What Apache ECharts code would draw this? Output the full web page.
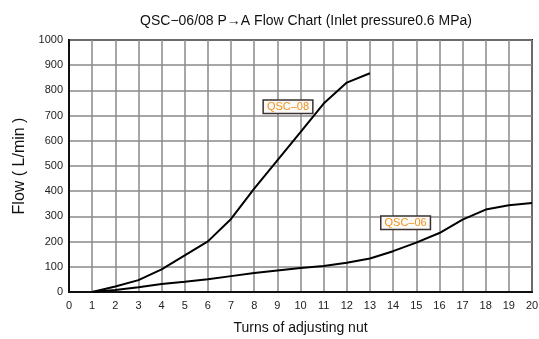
<!DOCTYPE html>
<html>
<head>
<meta charset="utf-8">
<script src="https://cdn.jsdelivr.net/npm/echarts@6/dist/echarts.min.js"></script>
<style>
  html, body { margin: 0; padding: 0; background: #fff; }
  #chart { width: 539px; height: 339px; }
</style>
</head>
<body>
<div id="chart"></div>
<script>
// Flow (L/min) against turns of the adjusting nut
const turns08 = [1, 2, 3, 4, 5, 6, 7, 8, 9, 10, 11, 12, 13];
const flow08  = [0, 22, 47, 90, 145, 201, 290, 410, 522, 634, 748, 831, 868];

const turns06 = [1, 2, 3, 4, 5, 6, 7, 8, 9, 10, 11, 12, 13, 14, 15, 16, 17, 18, 19, 20];
const flow06  = [0, 8, 19, 32, 41, 51, 63, 75, 85, 95, 103, 116, 133, 162, 196, 234, 287, 327, 344, 353];

const xTicks = [0, 1, 2, 3, 4, 5, 6, 7, 8, 9, 10, 11, 12, 13, 14, 15, 16, 17, 18, 19, 20];
const yTicks = [0, 100, 200, 300, 400, 500, 600, 700, 800, 900, 1000];

const seriesNames = ['QSC–08', 'QSC–06'];
const tagPos08 = [9.46, 735];
const tagPos06 = [14.54, 275];

const font = '"Liberation Sans", Arial, sans-serif';

function pairs(xs, ys) { return xs.map((x, i) => [x, ys[i]]); }

function tag(name, pos) {
  return {
    symbol: 'rect', symbolSize: 0,
    label: {
      show: true, position: 'inside', formatter: name,
      color: '#f0921e', fontSize: 11, fontFamily: font,
      backgroundColor: '#fbfaf8', borderColor: '#3a3030', borderWidth: 1.5,
      padding: [1, 3, 0, 3]
    },
    data: [{ coord: pos }]
  };
}

const chart = echarts.init(document.getElementById('chart'), null, { renderer: 'canvas' });
chart.setOption({
  animation: false,
  backgroundColor: '#fff',
  title: {
    text: 'QSC−06/08 P→A Flow Chart (Inlet pressure0.6 MPa)',
    left: 301, top: 9, textAlign: 'center',
    textStyle: { fontFamily: font, fontSize: 14, fontWeight: 'normal', color: '#111', letterSpacing: 0.4 }
  },
  grid: {
    left: 69, right: 7, top: 40, bottom: 47,
    outerBoundsMode: 'none', containLabel: false,
    show: true, borderColor: '#111', borderWidth: 2
  },
  xAxis: {
    type: 'value', min: xTicks[0], max: xTicks[xTicks.length - 1], interval: 1,
    name: 'Turns of adjusting nut', nameLocation: 'middle', nameGap: 29,
    nameTextStyle: { fontFamily: font, fontSize: 14, color: '#111', letterSpacing: 0.6 },
    axisLine: { lineStyle: { color: '#111', width: 2 } },
    axisTick: { show: false },
    axisLabel: { fontFamily: font, fontSize: 11, color: '#222', margin: 8 },
    splitLine: { lineStyle: { color: '#8a8a8a', width: 1.5 } }
  },
  yAxis: {
    type: 'value', min: yTicks[0], max: yTicks[yTicks.length - 1], interval: 100,
    name: 'Flow ( L/min )', nameLocation: 'middle', nameGap: 40, nameRotate: 90,
    nameTextStyle: { fontFamily: font, fontSize: 16, color: '#111', letterSpacing: 1.6 },
    axisLine: { lineStyle: { color: '#111', width: 2 } },
    axisTick: { show: false },
    axisLabel: { fontFamily: font, fontSize: 11, color: '#222', margin: 6, formatter: v => String(v) },
    splitLine: { lineStyle: { color: '#8a8a8a', width: 1.5 } }
  },
  series: [
    {
      name: seriesNames[0], type: 'line', data: pairs(turns08, flow08),
      showSymbol: false, lineStyle: { color: '#000', width: 2 },
      markPoint: tag(seriesNames[0], tagPos08)
    },
    {
      name: seriesNames[1], type: 'line', data: pairs(turns06, flow06),
      showSymbol: false, lineStyle: { color: '#000', width: 2 },
      markPoint: tag(seriesNames[1], tagPos06)
    }
  ]
});
</script>
</body>
</html>
